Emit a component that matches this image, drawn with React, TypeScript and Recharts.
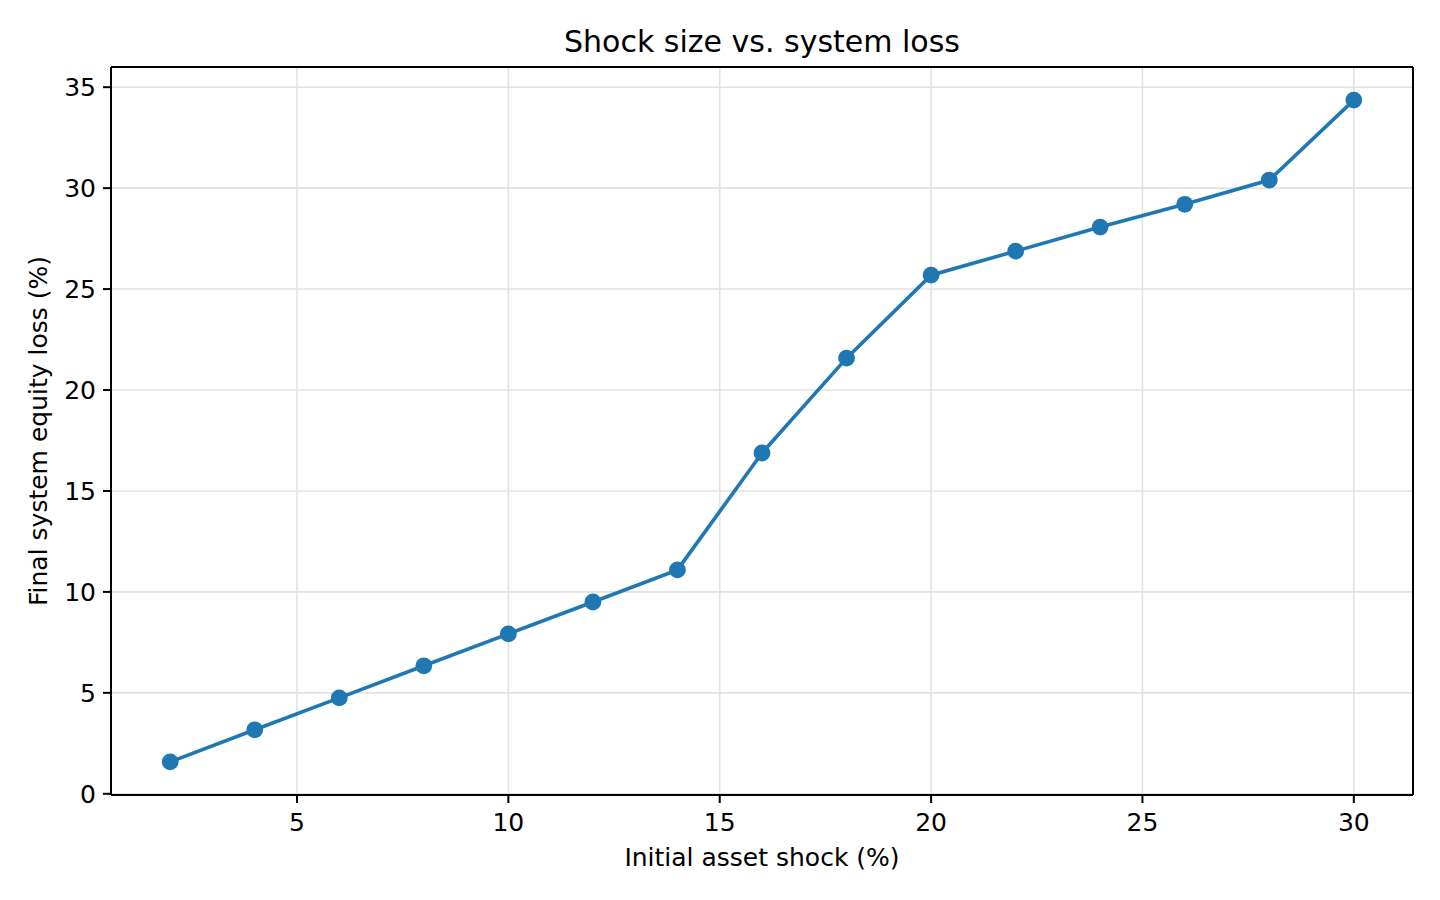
import { LineChart, Line, XAxis, YAxis, CartesianGrid, ReferenceLine } from 'recharts';

// initial asset shock (%)
const shocks = [2, 4, 6, 8, 10, 12, 14, 16, 18, 20, 22, 24, 26, 28, 30];
// final system equity loss (%)
const losses = [1.58, 3.17, 4.75, 6.34, 7.92, 9.5, 11.09, 16.88, 21.58, 25.69, 26.88, 28.07, 29.2, 30.4, 34.36];

const xTicks = [5, 10, 15, 20, 25, 30];
const yTicks = [0, 5, 10, 15, 20, 25, 30, 35];

const data = shocks.map((s, i) => ({ shock: s, loss: losses[i] }));

const FONT = 'DejaVu Sans, sans-serif';
const BLUE = '#1f77b4';
const X_DOMAIN: [number, number] = [0.6, 31.4];
const Y_DOMAIN: [number, number] = [-0.06, 36.0];

const App = () => {
  return (
    <div style={{ position: 'absolute', left: 0, top: 0, width: 1440, height: 900, background: '#fff' }}>
      <LineChart
        width={1440}
        height={900}
        data={data}
        margin={{ top: 67, right: 27, bottom: 45, left: 31 }}
        style={{ fontFamily: FONT }}
      >
        <CartesianGrid stroke="#e2e2e2" strokeWidth={1.6} />
        <XAxis
          dataKey="shock"
          type="number"
          domain={X_DOMAIN}
          ticks={xTicks}
          height={60}
          tickSize={8}
          tickMargin={10}
          axisLine={{ stroke: '#000', strokeWidth: 2 }}
          tickLine={{ stroke: '#000', strokeWidth: 2 }}
          tick={{ fill: '#000', fontSize: 25, fontFamily: FONT }}
          allowDataOverflow
        />
        <YAxis
          type="number"
          domain={Y_DOMAIN}
          ticks={yTicks}
          width={80}
          tickSize={8}
          tickMargin={7}
          axisLine={{ stroke: '#000', strokeWidth: 2 }}
          tickLine={{ stroke: '#000', strokeWidth: 2 }}
          tick={{ fill: '#000', fontSize: 25, fontFamily: FONT }}
          allowDataOverflow
        />
        {/* top and right spines */}
        <ReferenceLine y={Y_DOMAIN[1]} stroke="#000" strokeWidth={2} />
        <ReferenceLine x={X_DOMAIN[1]} stroke="#000" strokeWidth={2} />
        <Line
          dataKey="loss"
          stroke={BLUE}
          strokeWidth={3.6}
          dot={{ r: 8.4, fill: BLUE, stroke: 'none' }}
          activeDot={false}
          isAnimationActive={false}
        />
        <text x={762} y={52} textAnchor="middle" fontSize={30} fontFamily={FONT} fill="#000">
          Shock size vs. system loss
        </text>
        <text x={762} y={866} textAnchor="middle" fontSize={25} fontFamily={FONT} fill="#000">
          Initial asset shock (%)
        </text>
        <text
          x={47}
          y={431}
          textAnchor="middle"
          fontSize={25}
          fontFamily={FONT}
          fill="#000"
          transform="rotate(-90 47 431)"
        >
          Final system equity loss (%)
        </text>
      </LineChart>
    </div>
  );
};

export default App;
